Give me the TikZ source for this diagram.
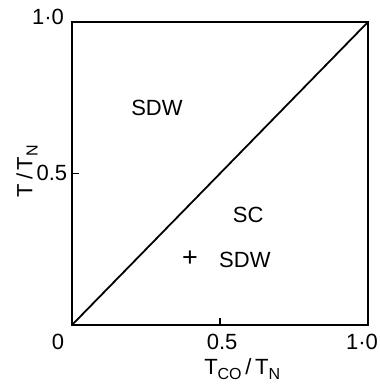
\documentclass[tikz,border=0pt]{standalone}
\usepackage{fontspec}
\setmainfont{Liberation Sans}
\newcommand{\lowsub}[1]{\raisebox{-0.45ex}{\fontsize{16}{18}\selectfont #1}}

\begin{document}
\begin{tikzpicture}[x=296pt,y=303pt,line width=1.8pt,
    every node/.style={font=\fontsize{22}{26}\selectfont,inner sep=1pt}]
  \useasboundingbox (-0.2432,-0.198) rectangle (1.0405,1.0726);
  \coordinate (O) at (0,0);
  \coordinate (A) at (1,1);
  \draw (O) rectangle (A);
  \draw (O) -- (A);
  % ticks at one half
  \draw (0.5,0) -- (0.5,0.024);
  \draw (0,0.5) -- (0.022,0.5);
  \foreach \x/\lab/\nm in {-0.047/0/xzero,0.507/0.5/xhalf,0.98/1·0/xone}{
    \node (\nm) at (\x,-0.056) {\lab};
  }
  \node (yhalf) at (-0.068,0.502) {0.5};
  \node (yone) at (-0.081,1.017) {1·0};
  \node (xlab) at (0.575,-0.145) {T\lowsub{CO}\,/\,T\lowsub{N}};
  \node[rotate=90] (ylab) at (-0.152,0.508) {T\,/\,T\lowsub{N}};
  % phase labels
  \node (sdw) at (0.287,0.716) {SDW};
  \node (sc) at (0.595,0.363) {SC};
  \node[font=\fontsize{27}{30}\selectfont] (plus) at (0.399,0.218) {+};
  \node (sdwb) at (0.584,0.215) {SDW};
\end{tikzpicture}
\end{document}
